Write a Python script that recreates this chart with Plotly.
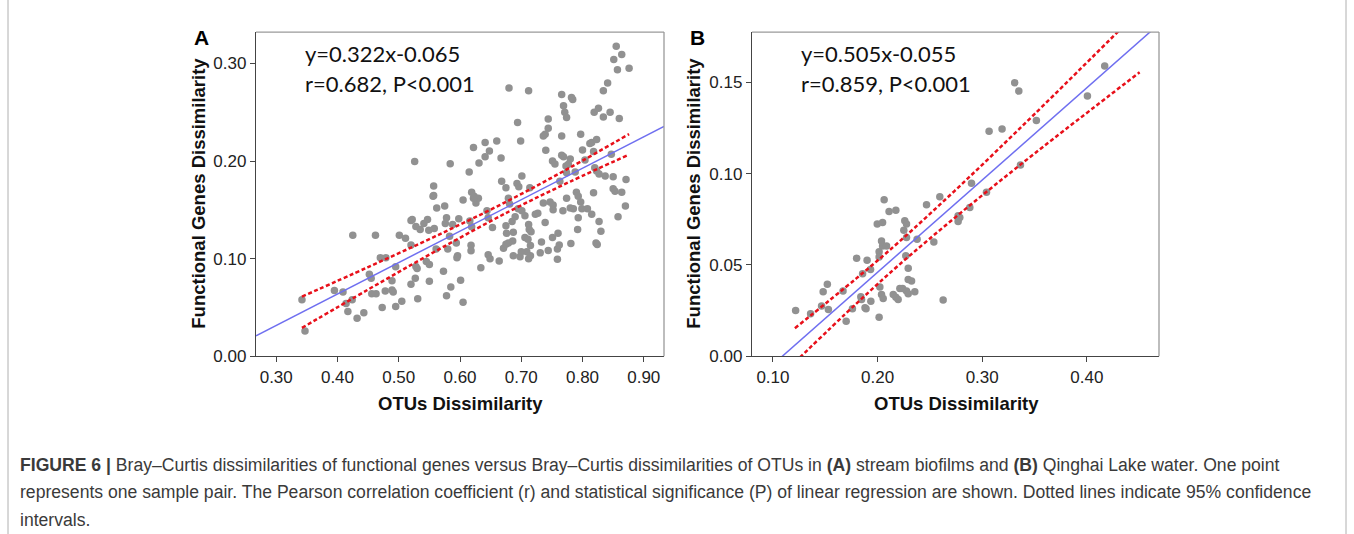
import plotly.graph_objects as go

W = 1354
H_REF = 534      # reference picture height (layout coordinates are measured in it)
H = 546          # page height that ends up photographed as 534 px

# ---------------- Panel A data (stream biofilms) ----------------
a_x = [0.342,0.347,0.395,0.409,0.414,0.424,0.417,0.432,0.443,0.425,0.462,0.452,0.455,0.456,0.463,0.470,0.479,0.478,0.489,0.491,
       0.473,0.495,0.505,0.489,0.495,0.501,0.511,0.520,0.520,0.522,0.528,0.535,0.541,0.547,0.549,0.558,0.556,0.562,0.575,0.578,
       0.576,0.588,0.598,0.528,0.530,0.527,0.520,0.531,0.545,0.550,0.550,0.561,0.573,0.578,0.585,0.580,0.583,0.594,0.596,0.595,
       0.601,0.605,
       0.634,0.646,0.649,0.664,0.687,0.698,0.700,0.709,0.712,0.715,0.731,0.744,0.759,0.759,0.762,0.781,0.822,0.824,0.830,0.827,
       0.792,0.793,0.858,0.870,0.815,0.808,0.799,0.780,0.785,0.797,0.768,0.751,0.760,0.733,0.739,0.723,0.727,0.706,0.712,0.713,
       0.716,0.706,0.711,0.715,0.701,0.687,0.686,0.679,0.675,0.676,0.671,0.675,0.685,0.690,0.681,0.695,0.653,0.646,0.644,0.618,
       0.618,0.619,0.616,0.626,0.630,0.622,0.736,0.747,0.752,0.752,0.774,
       0.855,0.864,0.851,0.857,0.876,0.841,0.834,0.680,0.712,0.766,0.782,0.784,0.769,0.771,0.774,0.819,0.826,0.834,0.845,0.860,
       0.694,0.744,0.744,0.739,0.736,0.766,0.797,0.699,0.660,0.641,0.622,0.648,0.641,0.631,0.667,0.615,0.740,0.766,0.769,0.800,
       0.812,0.815,0.823,0.818,0.751,0.755,0.780,0.777,0.773,0.804,0.847,0.820,0.823,0.788,0.774,0.837,0.850,0.871,0.827,0.668,
       0.675,0.701,0.693,0.696,0.714,0.763,0.790,0.793,0.818,0.850,0.853,0.864,0.619,0.623,0.605,0.679,
       0.526,0.584,0.557,0.557]
a_y = [0.058,0.026,0.0675,0.066,0.054,0.058,0.046,0.039,0.0445,0.124,0.124,0.084,0.080,0.064,0.064,0.101,0.101,0.067,0.068,0.066,
       0.050,0.051,0.0565,0.0774,0.0918,0.124,0.121,0.114,0.139,0.140,0.133,0.130,0.136,0.140,0.129,0.131,0.164,0.152,0.154,0.142,
       0.136,0.135,0.141,0.092,0.090,0.080,0.0737,0.059,0.097,0.094,0.077,0.110,0.087,0.062,0.071,0.110,0.123,0.116,0.103,0.101,
       0.078,0.0555,
       0.0907,0.104,0.100,0.0976,0.103,0.102,0.107,0.107,0.100,0.103,0.106,0.1085,0.0993,0.110,0.114,0.1155,0.116,0.1145,0.128,0.138,
       0.130,0.142,0.143,0.154,0.1455,0.151,0.151,0.152,0.151,0.158,0.149,0.1216,0.126,0.117,0.137,0.1455,0.1465,0.144,0.135,0.130,
       0.1275,0.1216,0.120,0.1135,0.149,0.127,0.118,0.116,0.1336,0.126,0.1106,0.1147,0.138,0.143,0.156,0.151,0.132,0.142,0.149,0.1137,
       0.108,0.1326,0.1387,0.157,0.162,0.162,0.157,0.158,0.155,0.150,0.162,
       0.3176,0.309,0.304,0.2935,0.295,0.280,0.272,0.2747,0.272,0.268,0.265,0.263,0.2565,0.250,0.2446,0.250,0.254,0.245,0.250,0.2436,
       0.2395,0.243,0.2336,0.2275,0.2257,0.2257,0.2275,0.2205,0.2205,0.219,0.2138,0.2103,0.2045,0.198,0.203,0.1887,0.211,0.206,0.2045,0.2113,
       0.218,0.219,0.222,0.2097,0.200,0.197,0.202,0.1967,0.195,0.201,0.207,0.193,0.1898,0.1887,0.188,0.1846,0.184,0.181,0.1867,0.1794,
       0.1727,0.1846,0.177,0.1737,0.1727,0.1794,0.168,0.164,0.1675,0.1716,0.169,0.168,0.168,0.164,0.160,0.162,
       0.1994,0.1973,0.1743,0.1647]

a_fit_x = [0.267, 0.933]
a_fit_y = [0.021, 0.2354]
a_ci_x = [0.342, 0.45, 0.56, 0.68, 0.78, 0.876]
a_ci_up = [0.0611, 0.0914, 0.1230, 0.1597, 0.1934, 0.2276]
a_ci_lo = [0.0291, 0.0684, 0.1076, 0.1483, 0.1790, 0.2066]
a_xticks = [0.30, 0.40, 0.50, 0.60, 0.70, 0.80, 0.90]
a_yticks = [0.00, 0.10, 0.20, 0.30]

# ---------------- Panel B data (Qinghai Lake water) ----------------
b_x = [0.1217,0.136,0.1465,0.153,0.148,0.152,0.167,0.176,0.170,0.180,0.1857,0.1847,0.188,0.189,0.190,0.1933,0.1936,0.184,
       0.1997,0.2048,0.2063,0.2015,0.2015,0.2038,0.2048,0.2086,0.2022,0.2038,0.2054,0.2015,0.211,0.2175,0.215,0.2175,0.2197,
       0.2213,0.2239,0.226,0.2277,0.2251,0.2277,0.227,0.2293,0.2293,0.2325,0.2277,0.2293,0.2356,0.2378,0.2468,0.2538,0.2595,
       0.2627,0.277,0.277,0.2882,0.2898,0.3311,0.335,0.3066,0.319,0.3518,0.4006,0.4171,0.3366,0.3041,0.2786]
b_y = [0.0251,0.0233,0.0275,0.0256,0.0353,0.0394,0.0357,0.026,0.0192,0.0537,0.0452,0.0311,0.0266,0.026,0.0526,0.0476,0.0302,0.0326,
       0.0724,0.0733,0.0857,0.0573,0.0544,0.0632,0.0604,0.0604,0.0379,0.0339,0.0317,0.0214,0.0793,0.080,0.0339,0.0324,0.0311,
       0.0372,0.0372,0.0742,0.0724,0.069,0.065,0.055,0.0482,0.0421,0.0412,0.0357,0.0342,0.0353,0.0641,0.083,0.0626,0.0874,
       0.0308,0.0769,0.0738,0.0815,0.0947,0.1498,0.1452,0.1232,0.1245,0.1291,0.1425,0.159,0.1048,0.0898,0.076]

b_fit_x = [0.10, 0.47]
b_fit_y = [-0.0045, 0.1824]
b_ci_x = [0.121, 0.18, 0.22, 0.28, 0.35, 0.4505]
b_ci_up = [0.0154, 0.0428, 0.0624, 0.0940, 0.1326, 0.1895]
b_ci_lo = [-0.0032, 0.0290, 0.0498, 0.0788, 0.1110, 0.1555]
b_xticks = [0.10, 0.20, 0.30, 0.40]
b_yticks = [0.00, 0.05, 0.10, 0.15]

eq_a = ["y=0.322x-0.065", "r=0.682, P<0.001"]
eq_b = ["y=0.505x-0.055", "r=0.859, P<0.001"]
x_title = "OTUs Dissimilarity"
y_title = "Functional Genes Dissimilarity"
caption = [
    "<b>FIGURE 6 |</b> Bray–Curtis dissimilarities of functional genes versus Bray–Curtis dissimilarities of OTUs in <b>(A)</b> stream biofilms and <b>(B)</b> Qinghai Lake water. One point",
    "represents one sample pair. The Pearson correlation coefficient (r) and statistical significance (P) of linear regression are shown. Dotted lines indicate 95% confidence",
    "intervals.",
]

PT = "#919191"
BLUE = "#6f6ff0"
RED = "#e8101a"

fig = go.Figure()

def add_panel(xs, ys, fx, fy, cx, cu, cl, xa, ya):
    fig.add_trace(go.Scatter(x=xs, y=ys, mode="markers", xaxis=xa, yaxis=ya,
                             marker=dict(color=PT, size=7.5, line=dict(width=0)), showlegend=False, cliponaxis=False))
    fig.add_trace(go.Scatter(x=fx, y=fy, mode="lines", xaxis=xa, yaxis=ya,
                             line=dict(color=BLUE, width=1.5), showlegend=False))
    for arr in (cu, cl):
        fig.add_trace(go.Scatter(x=cx, y=arr, mode="lines", xaxis=xa, yaxis=ya,
                                 line=dict(color=RED, width=2.5, dash="4px,2.5px", shape="spline"),
                                 showlegend=False))

add_panel(a_x, a_y, a_fit_x, a_fit_y, a_ci_x, a_ci_up, a_ci_lo, "x", "y")
add_panel(b_x, b_y, b_fit_x, b_fit_y, b_ci_x, b_ci_up, b_ci_lo, "x2", "y2")

def px(v):
    return v / W

def py(v):
    return 1 - v / H_REF

TICKFONT = dict(family="Liberation Sans, Arial, sans-serif", size=17, color="#222")
TITLEFONT = dict(family="Liberation Sans, Arial, sans-serif", size=18.5, color="#111")

axis_common = dict(showgrid=False, zeroline=False, showline=True, linecolor="#444", linewidth=1.3,
                   ticks="outside", ticklen=5, tickwidth=1.2, tickcolor="#444", tickfont=TICKFONT,
                   tickformat=".2f")

fig.update_layout(
    width=W, height=H, autosize=False, margin=dict(l=0, r=0, t=0, b=0),
    paper_bgcolor="white", plot_bgcolor="white",
    xaxis=dict(domain=[px(256), px(664)], range=[0.267, 0.933], tickvals=a_xticks, anchor="y", **axis_common),
    yaxis=dict(domain=[py(355), py(32)], range=[0, 0.332], tickvals=a_yticks, anchor="x", **axis_common),
    xaxis2=dict(domain=[px(752), px(1159)], range=[0.080, 0.469], tickvals=b_xticks, anchor="y2", **axis_common),
    yaxis2=dict(domain=[py(355), py(32)], range=[0, 0.1775], tickvals=b_yticks, anchor="x2", **axis_common),
)

shapes = []
for xr, yr in (("x", "y"), ("x2", "y2")):
    shapes.append(dict(type="line", xref=f"{xr} domain", yref=f"{yr} domain", x0=0, x1=1, y0=1, y1=1,
                       line=dict(color="#9a9a9a", width=1.3)))
    shapes.append(dict(type="line", xref=f"{xr} domain", yref=f"{yr} domain", x0=1, x1=1, y0=0, y1=1,
                       line=dict(color="#9a9a9a", width=1.3)))
# figure frame
shapes.append(dict(type="line", xref="paper", yref="paper", x0=px(8), x1=px(8), y0=0, y1=1,
                   line=dict(color="#b0b0b0", width=1)))
shapes.append(dict(type="line", xref="paper", yref="paper", x0=px(1346), x1=px(1346), y0=0, y1=1,
                   line=dict(color="#b0b0b0", width=1)))
fig.update_layout(shapes=shapes)

ann = []
EQFONT = dict(family="Lato, Open Sans, sans-serif", size=22, color="#111")
for i, t in enumerate(eq_a):
    ann.append(dict(x=px(303), y=py(53 + 30 * i), xref="paper", yref="paper", text=t, showarrow=False,
                    xanchor="left", yanchor="middle", font=EQFONT))
for i, t in enumerate(eq_b):
    ann.append(dict(x=px(799), y=py(53 + 30 * i), xref="paper", yref="paper", text=t, showarrow=False,
                    xanchor="left", yanchor="middle", font=EQFONT))
LBL = dict(family="Liberation Sans, Arial, sans-serif", size=21, color="#000")
ann.append(dict(x=px(201), y=py(37), xref="paper", yref="paper", text="<b>A</b>", showarrow=False,
                xanchor="center", yanchor="middle", font=LBL))
ann.append(dict(x=px(697), y=py(37), xref="paper", yref="paper", text="<b>B</b>", showarrow=False,
                xanchor="center", yanchor="middle", font=LBL))
for cx in (460, 956):
    ann.append(dict(x=px(cx), y=py(402), xref="paper", yref="paper", text=f"<b>{x_title}</b>", showarrow=False,
                    xanchor="center", yanchor="middle", font=TITLEFONT))
for cx in (199, 694):
    ann.append(dict(x=px(cx), y=py(193), xref="paper", yref="paper", text=f"<b>{y_title}</b>", showarrow=False,
                    xanchor="center", yanchor="middle", textangle=-90, font=TITLEFONT))
CAPFONT = dict(family="Liberation Sans, Arial, sans-serif", size=17.6, color="#3a3a3a")
for i, t in enumerate(caption):
    ann.append(dict(x=px(18), y=py(463 + 27.5 * i), xref="paper", yref="paper", text=t, showarrow=False,
                    xanchor="left", yanchor="middle", font=CAPFONT))
fig.update_layout(annotations=ann)

fig.write_html("out.html", config={"responsive": False, "displayModeBar": False},
               post_script="document.body.style.margin='0px';")
